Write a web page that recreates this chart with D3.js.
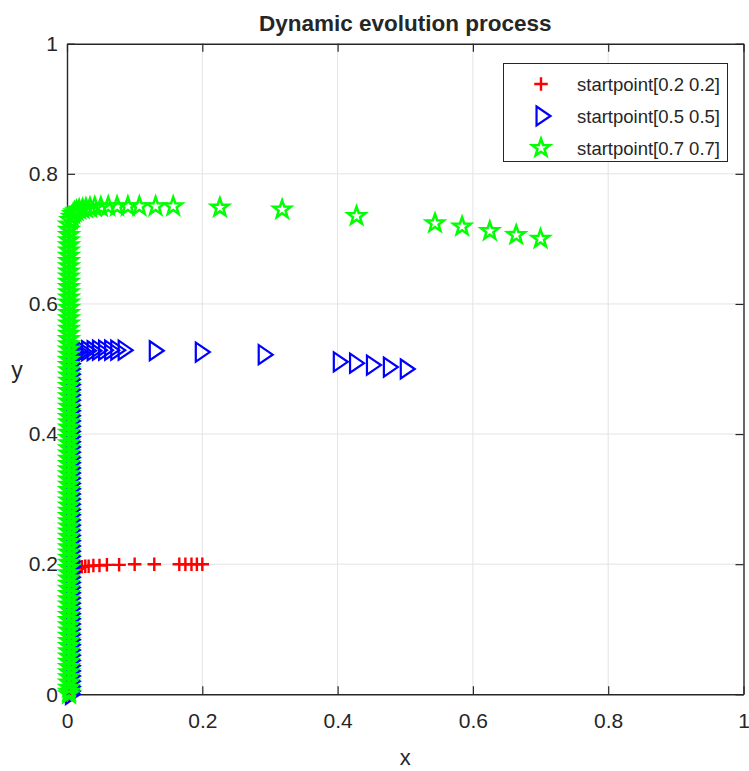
<!DOCTYPE html>
<html>
<head>
<meta charset="utf-8">
<script src="https://cdn.jsdelivr.net/npm/d3@7"></script>
<style>
body { margin: 0; background: #fff; }
text { font-family: "Liberation Sans", Arial, sans-serif; fill: #262626; }
</style>
</head>
<body>
<svg width="749" height="771"></svg>
<script>
// trajectories in time order, start point first
// head = the run from the start point to the corner
const redHeadX = [0.200, 0.192, 0.184, 0.175, 0.166, 0.129, 0.100, 0.077, 0.059, 0.048, 0.039, 0.032, 0.027, 0.022, 0.018, 0.015, 0.013, 0.011, 0.009, 0.008, 0.007, 0.006, 0.005]
const redHeadY = [0.200, 0.200, 0.200, 0.200, 0.200, 0.200, 0.200, 0.199, 0.199, 0.198, 0.198, 0.197, 0.197, 0.196, 0.195, 0.193, 0.191, 0.189, 0.187, 0.184, 0.181, 0.178, 0.175]
const redColX = 0.004
const redColY = [0.170, 0.162, 0.154, 0.146, 0.138, 0.130, 0.122, 0.114, 0.106, 0.098, 0.090, 0.082, 0.074, 0.066, 0.058, 0.050, 0.042, 0.034, 0.026, 0.018, 0.010, 0.004, 0.000]

const blueHeadX = [0.500, 0.475, 0.450, 0.425, 0.401, 0.290, 0.197, 0.129, 0.083, 0.072, 0.063, 0.054, 0.045, 0.037, 0.029, 0.022, 0.016, 0.012, 0.009, 0.007, 0.006]
const blueHeadY = [0.500, 0.503, 0.506, 0.509, 0.511, 0.522, 0.526, 0.528, 0.529, 0.529, 0.529, 0.529, 0.529, 0.528, 0.528, 0.527, 0.527, 0.526, 0.524, 0.521, 0.516]
const blueColX = 0.005
const blueColY = [0.508, 0.500, 0.492, 0.484, 0.476, 0.468, 0.460, 0.452, 0.444, 0.436, 0.428, 0.420, 0.412, 0.404, 0.396, 0.388, 0.380, 0.372, 0.364, 0.356, 0.348, 0.340, 0.332, 0.324, 0.316, 0.308, 0.300, 0.292, 0.284, 0.276, 0.268, 0.260, 0.252, 0.244, 0.236, 0.228, 0.220, 0.212, 0.204, 0.196, 0.188, 0.180, 0.172, 0.164, 0.156, 0.148, 0.140, 0.132, 0.124, 0.116, 0.108, 0.100, 0.092, 0.084, 0.076, 0.068, 0.060, 0.052, 0.044, 0.036, 0.028, 0.020, 0.012, 0.005, 0.000]

const greenHeadX = [0.700, 0.664, 0.625, 0.584, 0.544, 0.428, 0.318, 0.226, 0.157, 0.131, 0.107, 0.090, 0.074, 0.061, 0.050, 0.041, 0.034, 0.028, 0.023, 0.018, 0.014, 0.011, 0.009, 0.007, 0.005]
const greenHeadY = [0.700, 0.706, 0.712, 0.719, 0.724, 0.735, 0.745, 0.748, 0.750, 0.750, 0.750, 0.750, 0.750, 0.750, 0.749, 0.749, 0.748, 0.747, 0.746, 0.745, 0.743, 0.741, 0.738, 0.734, 0.729]
const greenColX = 0.003
const greenColY = [0.722, 0.714, 0.706, 0.698, 0.690, 0.682, 0.674, 0.666, 0.658, 0.650, 0.642, 0.634, 0.626, 0.618, 0.610, 0.602, 0.594, 0.586, 0.578, 0.570, 0.562, 0.554, 0.546, 0.538, 0.530, 0.522, 0.514, 0.506, 0.498, 0.490, 0.482, 0.474, 0.466, 0.458, 0.450, 0.442, 0.434, 0.426, 0.418, 0.410, 0.402, 0.394, 0.386, 0.378, 0.370, 0.362, 0.354, 0.346, 0.338, 0.330, 0.322, 0.314, 0.306, 0.298, 0.290, 0.282, 0.274, 0.266, 0.258, 0.250, 0.242, 0.234, 0.226, 0.218, 0.210, 0.202, 0.194, 0.186, 0.178, 0.170, 0.162, 0.154, 0.146, 0.138, 0.130, 0.122, 0.114, 0.106, 0.098, 0.090, 0.082, 0.074, 0.066, 0.058, 0.050, 0.042, 0.034, 0.026, 0.018, 0.010, 0.004, 0.000]

const legendLabels = ["startpoint[0.2 0.2]", "startpoint[0.5 0.5]", "startpoint[0.7 0.7]"]
const tickVals = [0, 0.2, 0.4, 0.6, 0.8, 1]

const svg = d3.select("svg")

const pLeft = 67, pRight = 743.5, pTop = 43.7, pBottom = 694.3
const x = d3.scaleLinear().domain([0, 1]).range([pLeft, pRight])
const y = d3.scaleLinear().domain([0, 1]).range([pBottom, pTop])

// marker shapes (matlab style, open)
const plusType = { draw(ctx, size) {
  const s = Math.sqrt(size) / 2
  ctx.moveTo(-s, 0); ctx.lineTo(s, 0)
  ctx.moveTo(0, -s); ctx.lineTo(0, s)
} }
const triType = { draw(ctx, size) {
  const s = Math.sqrt(size) / 2
  ctx.moveTo(-0.47 * s, -s); ctx.lineTo(s, 0); ctx.lineTo(-0.47 * s, s); ctx.closePath()
} }
const starType = { draw(ctx, size) {
  const R = Math.sqrt(size) / 2, r = R * 0.4
  for (let k = 0; k < 10; k++) {
    const a = -Math.PI / 2 + k * Math.PI / 5, rr = k % 2 ? r : R
    if (k === 0) ctx.moveTo(rr * Math.cos(a), rr * Math.sin(a))
    else ctx.lineTo(rr * Math.cos(a), rr * Math.sin(a))
  }
  ctx.closePath()
} }

const series = [
  { hx: redHeadX, hy: redHeadY, cx: redColX, cy: redColY, color: "#ff0000", type: plusType, size: 13.5 * 13.5, sw: 2.4 },
  { hx: blueHeadX, hy: blueHeadY, cx: blueColX, cy: blueColY, color: "#0000ff", type: triType, size: 19 * 19, sw: 2.2 },
  { hx: greenHeadX, hy: greenHeadY, cx: greenColX, cy: greenColY, color: "#00ff00", type: starType, size: 18.5 * 18.5, sw: 2.5 }
]

// grid
const grid = svg.append("g")
grid.selectAll("line.gx").data(tickVals.slice(1, -1)).enter().append("line")
  .attr("x1", d => x(d)).attr("x2", d => x(d)).attr("y1", pTop).attr("y2", pBottom)
  .attr("stroke", "#e3e3e3").attr("stroke-width", 1)
grid.selectAll("line.gy").data(tickVals.slice(1, -1)).enter().append("line")
  .attr("y1", d => y(d)).attr("y2", d => y(d)).attr("x1", pLeft).attr("x2", pRight)
  .attr("stroke", "#e3e3e3").attr("stroke-width", 1)

// axes, ticks inward on all four sides
const fmt = d3.format("~g")
const styleAxis = g => {
  g.select(".domain").attr("stroke", "#262626").attr("stroke-width", 1.4)
  g.selectAll(".tick line").attr("stroke", "#262626").attr("stroke-width", 1.2)
  g.selectAll(".tick text").style("font-size", "21px").attr("fill", "#262626")
}
svg.append("g").attr("transform", `translate(0,${pBottom})`)
  .call(d3.axisBottom(x).tickValues(tickVals).tickFormat(fmt).tickSizeInner(-8).tickSizeOuter(0).tickPadding(19))
  .call(styleAxis)
svg.append("g").attr("transform", `translate(${pLeft},0)`)
  .call(d3.axisLeft(y).tickValues(tickVals).tickFormat(fmt).tickSizeInner(-8).tickSizeOuter(0).tickPadding(9))
  .call(styleAxis)
svg.append("g").attr("transform", `translate(0,${pTop})`)
  .call(d3.axisTop(x).tickValues(tickVals).tickFormat("").tickSizeInner(-8).tickSizeOuter(0))
  .call(styleAxis)
svg.append("g").attr("transform", `translate(${pRight},0)`)
  .call(d3.axisRight(y).tickValues(tickVals).tickFormat("").tickSizeInner(-8).tickSizeOuter(0))
  .call(styleAxis)

// markers
series.forEach(s => {
  const pts = s.hx.map((v, i) => [v, s.hy[i]]).concat(s.cy.map(v => [s.cx, v]))
  svg.append("g").selectAll("path").data(pts).enter().append("path")
    .attr("transform", d => `translate(${x(d[0])},${y(d[1])})`)
    .attr("d", d3.symbol().type(s.type).size(s.size))
    .attr("fill", "none").attr("stroke", s.color).attr("stroke-width", s.sw)
})

// title and labels
svg.append("text").attr("x", (pLeft + pRight) / 2).attr("y", 31).attr("text-anchor", "middle")
  .style("font-size", "22.5px").style("font-weight", "bold").attr("fill", "#000").text("Dynamic evolution process")
svg.append("text").attr("x", (pLeft + pRight) / 2).attr("y", 765).attr("text-anchor", "middle")
  .style("font-size", "22px").text("x")
svg.append("text").attr("x", 17).attr("y", 378).attr("text-anchor", "middle")
  .style("font-size", "23px").text("y")

// legend
const lg = svg.append("g")
lg.append("rect").attr("x", 503.5).attr("y", 63.5).attr("width", 224).attr("height", 98)
  .attr("fill", "#fff").attr("stroke", "#262626").attr("stroke-width", 1)
series.forEach((s, i) => {
  const ly = 84 + i * 32
  lg.append("path").attr("transform", `translate(541,${ly})`)
    .attr("d", d3.symbol().type(s.type).size(s.size))
    .attr("fill", "none").attr("stroke", s.color).attr("stroke-width", s.sw)
  lg.append("text").attr("x", 577).attr("y", ly + 6.5)
    .style("font-size", "18.5px").attr("fill", "#000").text(legendLabels[i])
})
</script>
</body>
</html>
